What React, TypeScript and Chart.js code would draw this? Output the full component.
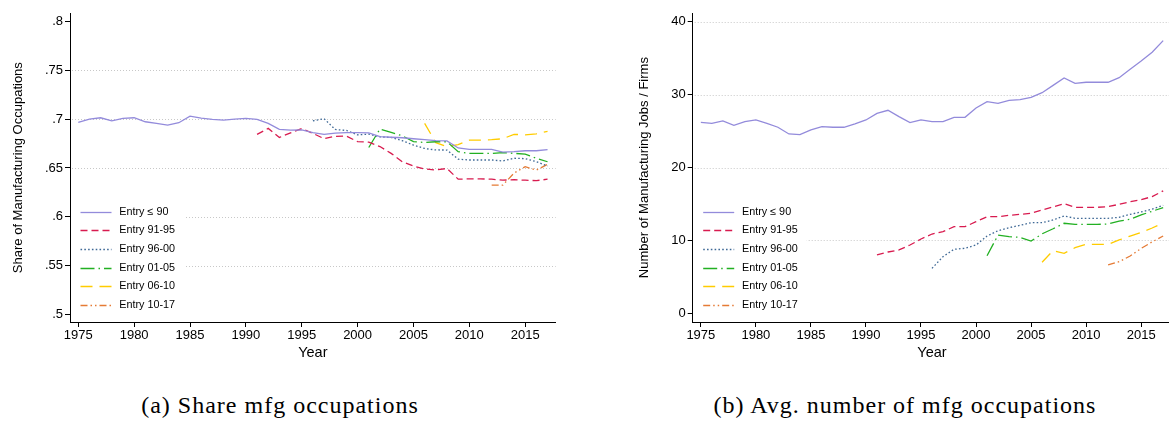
import React, { useEffect, useRef } from "react";
import { Chart, registerables } from "chart.js";

Chart.register(...registerables);

const SANS = "'Liberation Sans', Arial, Helvetica, sans-serif";

// ---- data ---------------------------------------------------------------

const years = [
  1975, 1976, 1977, 1978, 1979, 1980, 1981, 1982, 1983, 1984, 1985, 1986, 1987, 1988, 1989,
  1990, 1991, 1992, 1993, 1994, 1995, 1996, 1997, 1998, 1999, 2000, 2001, 2002, 2003, 2004,
  2005, 2006, 2007, 2008, 2009, 2010, 2011, 2012, 2013, 2014, 2015, 2016, 2017,
];

const xTickYears = [1975, 1980, 1985, 1990, 1995, 2000, 2005, 2010, 2015];

const cohortNames = ["Entry \u2264 90", "Entry 91-95", "Entry 96-00", "Entry 01-05", "Entry 06-10", "Entry 10-17"];
const cohortStart = [1975, 1991, 1996, 2001, 2006, 2012];

// share of manufacturing occupations, by entry cohort
const share90 = [
  0.6967, 0.7, 0.7015, 0.6984, 0.7008, 0.7015, 0.6974, 0.6957, 0.694, 0.6964, 0.7032, 0.7012,
  0.6998, 0.6991, 0.7001, 0.7008, 0.6998, 0.6957, 0.6896, 0.6888, 0.689, 0.6862, 0.6845, 0.6858,
  0.6862, 0.6862, 0.686, 0.6822, 0.6815, 0.681, 0.68, 0.679, 0.678, 0.6778, 0.6705, 0.669, 0.669,
  0.669, 0.6662, 0.6667, 0.6677, 0.6677, 0.6688,
];
const share9195 = [
  0.6844, 0.6906, 0.6813, 0.686, 0.6905, 0.6855, 0.68, 0.6825, 0.6827, 0.677, 0.6765, 0.672,
  0.665, 0.6564, 0.652, 0.649, 0.648, 0.6495, 0.6386, 0.6388, 0.6388, 0.6385, 0.6375, 0.638,
  0.6375, 0.637, 0.6385,
];
const share9600 = [
  0.6984, 0.7005, 0.6895, 0.6885, 0.684, 0.6847, 0.682, 0.6813, 0.678, 0.6735, 0.67, 0.6685,
  0.6684, 0.659, 0.6582, 0.6582, 0.6582, 0.6572, 0.66, 0.6596, 0.6565, 0.652,
];
const share0105 = [
  0.671, 0.69, 0.6864, 0.683, 0.677, 0.6762, 0.6769, 0.6769, 0.6667, 0.665, 0.665, 0.665, 0.6657,
  0.665, 0.6643, 0.66, 0.6564,
];
const share0610 = [0.6957, 0.676, 0.672, 0.674, 0.6785, 0.6785, 0.679, 0.68, 0.6845, 0.684, 0.685, 0.6875];
const share1017 = [0.6325, 0.6325, 0.6448, 0.6513, 0.6479, 0.6537];

const shareTicks = [0.5, 0.55, 0.6, 0.65, 0.7, 0.75, 0.8];
const shareTickLabels = [".5", ".55", ".6", ".65", ".7", ".75", ".8"];
const shareGrid = [0.55, 0.6, 0.65, 0.7, 0.75];

// average number of manufacturing jobs per firm, by entry cohort
const jobs90 = [
  26.2, 26.06, 26.38, 25.78, 26.29, 26.52, 26.06, 25.52, 24.6, 24.5, 25.15, 25.6, 25.52, 25.52,
  26.0, 26.52, 27.43, 27.85, 26.97, 26.15, 26.52, 26.29, 26.29, 26.88, 26.88, 28.16, 29.03, 28.8,
  29.22, 29.3, 29.63, 30.26, 31.27, 32.28, 31.55, 31.69, 31.69, 31.69, 32.32, 33.47, 34.6, 35.8,
  37.4,
];
const jobs9195 = [
  8.0, 8.41, 8.69, 9.37, 10.19, 10.88, 11.2, 11.88, 11.88, 12.57, 13.25, 13.25, 13.44, 13.58,
  13.72, 14.17, 14.6, 15.04, 14.54, 14.54, 14.54, 14.63, 14.95, 15.31, 15.6, 16.0, 16.8,
];
const jobs9600 = [
  6.17, 7.77, 8.78, 8.92, 9.37, 10.6, 11.33, 11.75, 12.07, 12.43, 12.43, 12.8, 13.35, 13.03, 13.03,
  13.03, 13.03, 13.17, 13.58, 13.9, 14.3, 14.8,
];
const jobs0105 = [
  7.9, 10.74, 10.51, 10.42, 9.92, 10.9, 11.6, 12.35, 12.2, 12.2, 12.2, 12.25, 12.66, 12.9, 13.5,
  14.0, 14.5,
];
const jobs0610 = [7.0, 8.6, 8.23, 9.0, 9.47, 9.47, 9.47, 10.06, 10.6, 11.1, 11.7, 12.4];
const jobs1017 = [6.63, 7.08, 7.86, 8.9, 9.8, 10.6];

const jobsTicks = [0, 10, 20, 30, 40];
const jobsTickLabels = ["0", "10", "20", "30", "40"];
const jobsGrid = [10, 20, 30, 40];

// ---- styles -------------------------------------------------------------

const cohortColors = ["#938bdb", "#d81b4f", "#3f6996", "#22b022", "#ffcc00", "#e57b35"];
const cohortDash: number[][] = [[], [7, 4], [1.6, 2.2], [14, 4, 1.5, 4], [12, 7], [7, 3, 1.5, 3, 1.5, 3]];
const INK = "#000";

// ---- helpers ------------------------------------------------------------

function toPoints(values: number[], start: number) {
  const offset = years.indexOf(start);
  return values.map((v, i) => ({ x: years[offset + i], y: v }));
}

const dottedGrid = {
  id: "dottedGrid",
  beforeDatasetsDraw(chart: any, _args: any, opts: any) {
    const { ctx, chartArea } = chart;
    const y = chart.scales.y;
    ctx.save();
    ctx.strokeStyle = "#c8c8c8";
    ctx.lineWidth = 1;
    ctx.setLineDash([1, 2]);
    for (const v of opts.values as number[]) {
      const py = Math.round(y.getPixelForValue(v)) + 0.5;
      ctx.beginPath();
      ctx.moveTo(chartArea.left + 2, py);
      ctx.lineTo(chartArea.right, py);
      ctx.stroke();
    }
    ctx.restore();
  },
};

const innerLegend = {
  id: "innerLegend",
  afterDatasetsDraw(chart: any) {
    const { ctx, chartArea } = chart;
    const rowGap = 18.65;
    const lastRowY = chartArea.bottom - 17;
    const n = chart.data.datasets.length;
    ctx.save();
    ctx.fillStyle = "#ffffff";
    ctx.fillRect(chartArea.left + 1, lastRowY - (n - 1) * rowGap - 12, 113, (n - 1) * rowGap + 26);
    ctx.font = `10.8px ${SANS}`;
    ctx.textBaseline = "middle";
    ctx.textAlign = "left";
    chart.data.datasets.forEach((ds: any, i: number) => {
      const y = Math.round(lastRowY - (n - 1 - i) * rowGap) + 0.5;
      ctx.strokeStyle = ds.borderColor;
      ctx.lineWidth = 1.3;
      ctx.setLineDash(ds.borderDash || []);
      ctx.beginPath();
      ctx.moveTo(chartArea.left + 10.5, y);
      ctx.lineTo(chartArea.left + 41.5, y);
      ctx.stroke();
      ctx.setLineDash([]);
      ctx.fillStyle = INK;
      ctx.fillText(ds.label, chartArea.left + 49.3, y);
    });
    ctx.restore();
  },
};

type PanelSpec = {
  series: number[][];
  yMin: number;
  yMax: number;
  yTicks: number[];
  yTickLabels: string[];
  grid: number[];
  yTitle: string;
  yAxisWidth: number;
  yTitlePad: number;
  padRight: number;
};

function buildConfig(p: PanelSpec): any {
  return {
    type: "line",
    data: {
      datasets: p.series.map((vals, i) => ({
        label: cohortNames[i],
        data: toPoints(vals, cohortStart[i]),
        borderColor: cohortColors[i],
        backgroundColor: cohortColors[i],
        borderDash: cohortDash[i],
        borderWidth: 1.3,
        pointRadius: 0,
        tension: 0,
        fill: false,
      })),
    },
    options: {
      responsive: false,
      animation: false,
      devicePixelRatio: 1,
      layout: { padding: { left: 0, top: 13.3, right: p.padRight, bottom: 0 } },
      plugins: {
        legend: { display: false },
        tooltip: { enabled: false },
        dottedGrid: { values: p.grid },
      },
      scales: {
        x: {
          type: "linear",
          min: 1974.26,
          max: 2017.73,
          afterBuildTicks: (s: any) => {
            s.ticks = xTickYears.map((v) => ({ value: v }));
          },
          afterFit: (s: any) => {
            s.height = 43;
          },
          ticks: {
            autoSkip: false,
            maxRotation: 0,
            padding: 1,
            color: INK,
            font: { family: SANS, size: 13 },
            callback: (v: number) => String(v),
          },
          grid: { drawOnChartArea: false, drawTicks: true, tickLength: 5, color: INK, tickBorderDash: [] },
          border: { display: true, color: INK, width: 1 },
          title: {
            display: true,
            text: "Year",
            color: INK,
            font: { family: SANS, size: 14.5 },
            padding: { top: 0, bottom: 3.3 },
          },
        },
        y: {
          type: "linear",
          min: p.yMin,
          max: p.yMax,
          afterBuildTicks: (s: any) => {
            s.ticks = p.yTicks.map((v) => ({ value: v }));
          },
          afterFit: (s: any) => {
            s.width = p.yAxisWidth;
          },
          ticks: {
            padding: 2,
            color: INK,
            font: { family: SANS, size: 13 },
            callback: (v: number) => p.yTickLabels[p.yTicks.indexOf(v)] ?? "",
          },
          grid: { drawOnChartArea: false, drawTicks: true, tickLength: 5, color: INK, tickBorderDash: [] },
          border: { display: true, color: INK, width: 1 },
          title: {
            display: true,
            text: p.yTitle,
            color: INK,
            font: { family: SANS, size: 13 },
            padding: { top: p.yTitlePad, bottom: 0 },
          },
        },
      },
    },
    plugins: [dottedGrid, innerLegend],
  };
}

function Panel({ spec, left }: { spec: PanelSpec; left: number }) {
  const ref = useRef<HTMLCanvasElement>(null);
  useEffect(() => {
    if (!ref.current) return;
    const chart = new Chart(ref.current, buildConfig(spec));
    return () => chart.destroy();
  }, []);
  return (
    <canvas
      ref={ref}
      width={600}
      height={365}
      style={{ position: "absolute", left, top: 0, width: 600, height: 365 }}
    />
  );
}

const sharePanel: PanelSpec = {
  series: [share90, share9195, share9600, share0105, share0610, share1017],
  yMin: 0.4921,
  yMax: 0.8086,
  yTicks: shareTicks,
  yTickLabels: shareTickLabels,
  grid: shareGrid,
  yTitle: "Share of Manufacturing Occupations",
  yAxisWidth: 70,
  yTitlePad: 10.7,
  padRight: 44.3,
};

const jobsPanel: PanelSpec = {
  series: [jobs90, jobs9195, jobs9600, jobs0105, jobs0610, jobs1017],
  yMin: -1.19,
  yMax: 41.15,
  yTicks: jobsTicks,
  yTickLabels: jobsTickLabels,
  grid: jobsGrid,
  yTitle: "Number of Manufacturing Jobs / Firms",
  yAxisWidth: 112.7,
  yTitlePad: 56.2,
  padRight: 8.8,
};

const captionStyle: React.CSSProperties = {
  position: "absolute",
  top: 393,
  width: 600,
  textAlign: "center",
  fontFamily: "'Liberation Serif', 'Times New Roman', serif",
  fontSize: 24,
  letterSpacing: "1px",
  lineHeight: "24px",
  color: "#000",
  whiteSpace: "nowrap",
};

export default function App() {
  return (
    <div
      style={{
        position: "fixed",
        left: 0,
        top: 0,
        width: 1169,
        height: 421,
        overflow: "hidden",
        background: "#fff",
      }}
    >
      <Panel spec={sharePanel} left={0} />
      <Panel spec={jobsPanel} left={580} />
      <div style={{ ...captionStyle, left: 280 - 300 }}>(a) Share mfg occupations</div>
      <div style={{ ...captionStyle, left: 905 - 300 }}>(b) Avg. number of mfg occupations</div>
    </div>
  );
}
